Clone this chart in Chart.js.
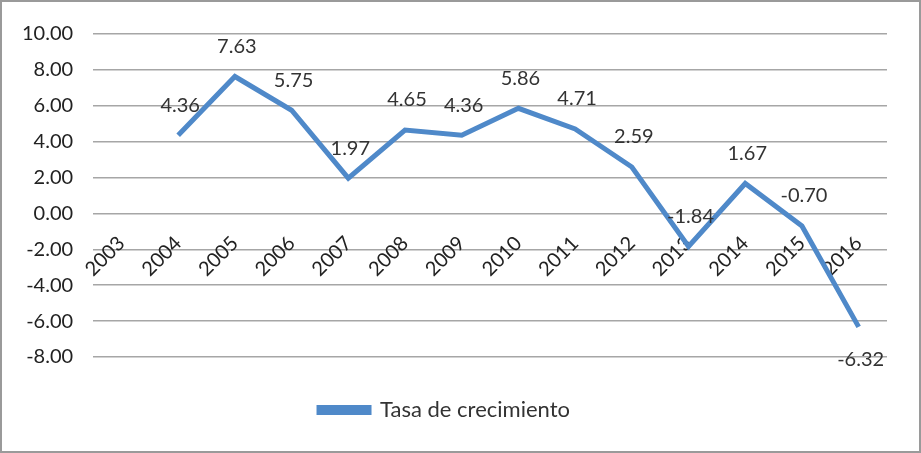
<!DOCTYPE html>
<html>
<head>
<meta charset="utf-8">
<script src="https://cdn.jsdelivr.net/npm/chart.js@4"></script>
<style>
  html, body { margin: 0; padding: 0; background: #fff; }
  #wrap { width: 921px; height: 453px; box-sizing: border-box; border: 2px solid #9a9a9a; background: #fff; }
</style>
</head>
<body>
<div id="wrap"><canvas id="myChart"></canvas></div>
<script>
const chartEle = document.getElementById('myChart')

// data
let years = ['2003','2004','2005','2006','2007','2008','2009','2010','2011','2012','2013','2014','2015','2016']
let tasa = [null, 4.36, 7.63, 5.75, 1.97, 4.65, 4.36, 5.86, 4.71, 2.59, -1.84, 1.67, -0.70, -6.32]
let seriesName = 'Tasa de crecimiento'

const blue = '#4f89c9'
const fontFam = 'Lato, "Open Sans", sans-serif'

// value labels above each point (the last one goes under)
const valueLabels = {
  id: 'valueLabels',
  afterDatasetsDraw(chart) {
    const ctx = chart.ctx
    const meta = chart.getDatasetMeta(0)
    ctx.save()
    ctx.font = '20px ' + fontFam
    ctx.fillStyle = '#333'
    ctx.textAlign = 'center'
    ctx.textBaseline = 'middle'
    meta.data.forEach((pt, i) => {
      const v = tasa[i]
      if (v === null) return
      const below = i === tasa.length - 1
      ctx.fillText(v.toFixed(2), pt.x + 2, pt.y + (below ? 33 : -30))
    })
    ctx.restore()
  }
}

const chart = new Chart(chartEle, {
  type: 'line',
  data: {
    labels: years,
    datasets: [{
      label: seriesName,
      data: tasa,
      borderColor: blue,
      backgroundColor: blue,
      borderWidth: 5,
      pointRadius: 0,
      tension: 0,
      spanGaps: false
    }]
  },
  options: {
    responsive: true,
    maintainAspectRatio: false,
    animation: false,
    layout: { padding: { left: 0, right: 32, top: 14, bottom: 20 } },
    plugins: {
      tooltip: { enabled: false },
      legend: {
        position: 'bottom',
        labels: {
          boxWidth: 50,
          boxHeight: 5,
          padding: 42,
          color: '#333',
          font: { family: fontFam, size: 22 }
        }
      }
    },
    scales: {
      x: {
        position: { y: 0 },
        offset: true,
        grid: { display: false, drawTicks: false },
        border: { display: false },
        ticks: {
          minRotation: 45,
          maxRotation: 45,
          padding: 18,
          color: '#222',
          font: { family: fontFam, size: 20 }
        }
      },
      y: {
        min: -8,
        max: 10,
        grid: { color: '#a6a6a6', lineWidth: 1.5, drawTicks: false },
        border: { display: false },
        ticks: {
          stepSize: 2,
          padding: 20,
          color: '#222',
          font: { family: fontFam, size: 20 },
          callback: v => v.toFixed(2)
        }
      }
    }
  },
  plugins: [valueLabels]
})
</script>
</body>
</html>
